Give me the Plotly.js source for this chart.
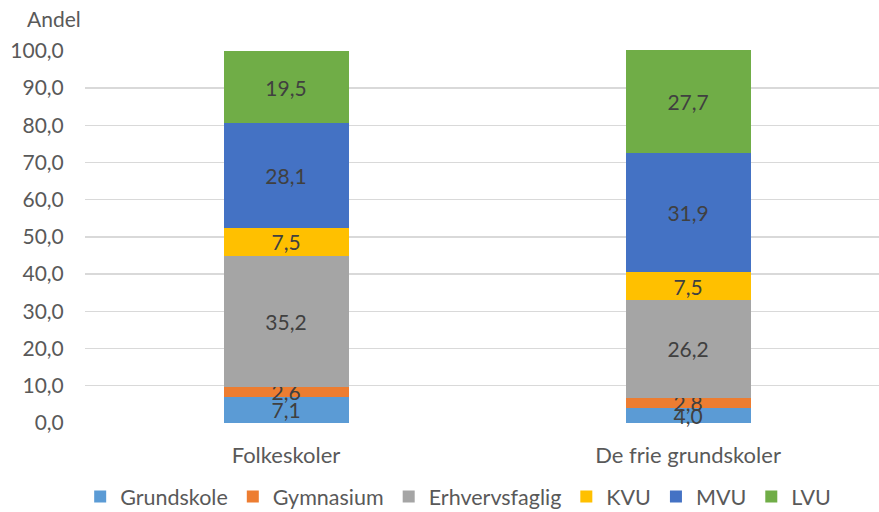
<!DOCTYPE html>
<html>
<head>
<meta charset="utf-8">
<script src="https://cdn.plot.ly/plotly-3.0.1.min.js"></script>
<style>html,body{margin:0;padding:0;background:#fff;}#chart{width:879px;height:512px;}</style>
</head>
<body>
<div id="chart"></div>
<script>
const categories = ["Folkeskoler", "De frie grundskoler"];
const seriesNames = ["Grundskole", "Gymnasium", "Erhvervsfaglig", "KVU", "MVU", "LVU"];
const grundskole = [7.1, 4.0];
const gymnasium = [2.6, 2.8];
const erhvervsfaglig = [35.2, 26.2];
const kvu = [7.5, 7.5];
const mvu = [28.1, 31.9];
const lvu = [19.5, 27.7];
const yTickVals = [0, 10, 20, 30, 40, 50, 60, 70, 80, 90, 100];
const colors = ["#5B9BD5", "#ED7D31", "#A5A5A5", "#FFC000", "#4472C4", "#70AD47"];
const values = [grundskole, gymnasium, erhvervsfaglig, kvu, mvu, lvu];

const FONT = "Lato, 'Open Sans', sans-serif";
const traces = seriesNames.map((name, i) => ({
  type: "bar",
  name: name,
  x: categories,
  y: values[i],
  marker: {color: colors[i], line: {width: 0}},
  width: 0.311,
  texttemplate: "%{y:.1f}",
  textposition: "inside",
  insidetextanchor: "middle",
  constraintext: "none",
  cliponaxis: false,
  textfont: {family: FONT, size: 21, color: "#404040"},
  hoverinfo: "none"
}));

const layout = {
  width: 879, height: 512,
  margin: {l: 85, r: 0, t: 50, b: 89, autoexpand: false},
  barmode: "stack",
  separators: ",.",
  paper_bgcolor: "#fff",
  plot_bgcolor: "#fff",
  font: {family: FONT, color: "#595959", size: 21},
  xaxis: {
    range: [-0.5, 1.475],
    automargin: false,
    showgrid: false, zeroline: false, showline: false,
    ticks: "outside", ticklen: 13, tickcolor: "rgba(0,0,0,0)",
    tickfont: {family: FONT, size: 22, color: "#595959"}
  },
  yaxis: {
    range: [0, 100.2],
    automargin: false,
    tickvals: yTickVals,
    tickformat: ".1f",
    showgrid: true, gridcolor: "#D9D9D9", gridwidth: 1.3,
    zeroline: false, showline: false,
    ticks: "outside", ticklen: 16, tickcolor: "rgba(0,0,0,0)",
    tickfont: {family: FONT, size: 21, color: "#595959"}
  },
  legend: {
    orientation: "h", traceorder: "normal",
    x: 0.47, xanchor: "center",
    yref: "container", y: 0.03, yanchor: "middle",
    font: {family: FONT, size: 21.5, color: "#595959"},
    itemwidth: 30, tracegroupgap: 0
  },
  showlegend: true,
  annotations: [{
    text: "Andel", xref: "paper", yref: "paper", x: -0.076, y: 1, xanchor: "left", yanchor: "middle",
    yshift: 32, showarrow: false, font: {family: FONT, size: 21, color: "#595959"}
  }]
};

Plotly.newPlot("chart", traces, layout, {displayModeBar: false, staticPlot: true});
</script>
</body>
</html>
